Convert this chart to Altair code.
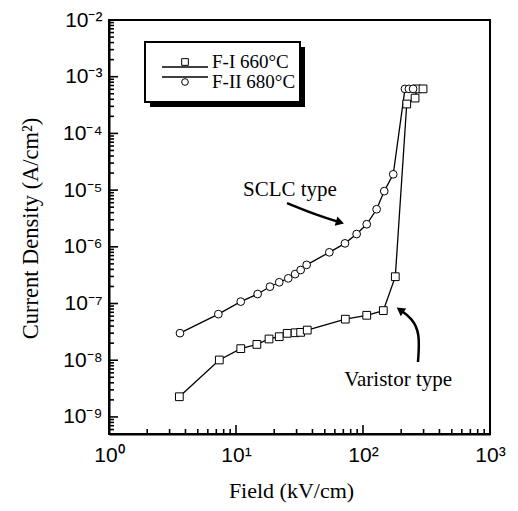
import altair as alt
import pandas as pd

# ---- data ----
SERIES = ["F-I 660°C", "F-II 680°C"]

FI_X = [3.58, 7.39, 10.9, 14.6, 18.2, 21.9, 25.3, 29.2, 32.3, 36.4, 72.6, 107, 144.5, 179.6, 221, 257, 266, 297]
FI_Y = [2.27e-9, 1.01e-8, 1.6e-8, 1.9e-8, 2.37e-8, 2.6e-8, 2.98e-8, 3.05e-8, 3.1e-8, 3.4e-8,
        5.3e-8, 6.2e-8, 7.5e-8, 2.97e-7, 3.3e-4, 4.2e-4, 6.1e-4, 6.1e-4]

FII_X = [3.62, 7.26, 10.9, 14.8, 18.5, 21.9, 25.8, 29.2, 32.3, 36.0, 54.3, 72.1, 89.1, 107, 128, 147, 173, 214, 230, 248]
FII_Y = [3.0e-8, 6.5e-8, 1.08e-7, 1.47e-7, 1.98e-7, 2.37e-7, 2.78e-7, 3.3e-7, 3.9e-7, 4.8e-7,
         8.0e-7, 1.15e-6, 1.68e-6, 2.5e-6, 4.6e-6, 9.6e-6, 1.9e-5, 6.1e-4, 6.1e-4, 6.1e-4]

X_TICKS = [1, 10, 100, 1000]
Y_TICKS = [1e-9, 1e-8, 1e-7, 1e-6, 1e-5, 1e-4, 1e-3, 1e-2]
X_MINOR = [2, 3, 4, 5, 6, 7, 8, 9, 20, 30, 40, 50, 60, 70, 80, 90, 200, 300, 400, 500, 600, 700, 800, 900]
Y_MINOR = [5e-10, 6e-10, 7e-10, 8e-10, 9e-10,
           2e-9, 3e-9, 4e-9, 5e-9, 6e-9, 7e-9, 8e-9, 9e-9,
           2e-8, 3e-8, 4e-8, 5e-8, 6e-8, 7e-8, 8e-8, 9e-8,
           2e-7, 3e-7, 4e-7, 5e-7, 6e-7, 7e-7, 8e-7, 9e-7,
           2e-6, 3e-6, 4e-6, 5e-6, 6e-6, 7e-6, 8e-6, 9e-6,
           2e-5, 3e-5, 4e-5, 5e-5, 6e-5, 7e-5, 8e-5, 9e-5,
           2e-4, 3e-4, 4e-4, 5e-4, 6e-4, 7e-4, 8e-4, 9e-4,
           2e-3, 3e-3, 4e-3, 5e-3, 6e-3, 7e-3, 8e-3, 9e-3]

NOTE_TEXT = ["SCLC type", "Varistor type"]
NOTE_X = [26.6, 189]
NOTE_Y = [1.0e-5, 4.5e-9]

ARROW1_X = [25.2, 43.4, 65.9]
ARROW1_Y = [5.9e-6, 3.6e-6, 2.7e-6]
ARROW2_X = [271, 281, 243, 196]
ARROW2_Y = [9.3e-9, 3.0e-8, 5.5e-8, 7.7e-8]
HEAD_ANGLE = [17, 215]

# ---- tables ----
df = pd.DataFrame({
    "field": FI_X + FII_X,
    "current": FI_Y + FII_Y,
    "series": [SERIES[0]] * len(FI_X) + [SERIES[1]] * len(FII_X),
    "order": list(range(len(FI_X))) + list(range(len(FII_X))),
})
notes = pd.DataFrame({"field": NOTE_X, "current": NOTE_Y, "text": NOTE_TEXT})
arrows = pd.DataFrame({
    "field": ARROW1_X + ARROW2_X,
    "current": ARROW1_Y + ARROW2_Y,
    "arrow": ["a"] * len(ARROW1_X) + ["b"] * len(ARROW2_X),
    "idx": list(range(len(ARROW1_X))) + list(range(len(ARROW2_X))),
})
heads = pd.DataFrame({
    "field": [ARROW1_X[-1], ARROW2_X[-1]],
    "current": [ARROW1_Y[-1], ARROW2_Y[-1]],
    "angle": HEAD_ANGLE,
})
legend_df = pd.DataFrame({"series": SERIES})
frame_df = pd.DataFrame({"series": SERIES[:1]})

xs = alt.Scale(type="log", domain=[1, 1000])
ys = alt.Scale(type="log", domain=[5e-10, 1e-2])
shape_scale = alt.Scale(domain=SERIES, range=["square", "circle"])

SUP = {"-": "⁻", "0": "⁰", "1": "¹", "2": "²", "3": "³", "4": "⁴",
       "5": "⁵", "6": "⁶", "7": "⁷", "8": "⁸", "9": "⁹"}
exp_expr = "toString(round(log(datum.value)/LN10))"
for k, v in SUP.items():
    exp_expr = f"replace({exp_expr}, '{k}', '{v}')"
label_expr = "'10' + " + exp_expr

SANS = "Liberation Sans"
SERIF = "Liberation Serif"
PLOT_W, PLOT_H = 381, 414

x_main = alt.X("field:Q", scale=xs, axis=alt.Axis(
    orient="bottom", values=X_TICKS, labelExpr=label_expr, ticks=False, tickSize=0,
    domainColor="black", domainWidth=2, labelFont=SANS, labelFontSize=21,
    labelColor="black", labelPadding=10, labelBaseline="top", labelFlush=False, grid=False,
    title="Field (kV/cm)", titleFont=SERIF, titleFontSize=22, titleFontWeight="normal",
    titleColor="black", titleX=182, titleY=46, titleBaseline="top", titleAlign="center"))
y_main = alt.Y("current:Q", scale=ys, axis=alt.Axis(
    orient="left", values=Y_TICKS, labelExpr=label_expr, ticks=False, tickSize=0,
    domainColor="black", domainWidth=2, labelFont=SANS, labelFontSize=21,
    labelColor="black", labelPadding=7, labelBaseline="middle", labelFlush=False, grid=False,
    title="Current Density (A/cm²)", titleFont=SERIF, titleFontSize=22.5,
    titleFontWeight="normal", titleColor="black", titleX=-79, titleY=208,
    titleAngle=270, titleBaseline="middle", titleAlign="center"))

x_none = alt.X("field:Q", scale=xs, axis=None)
y_none = alt.Y("current:Q", scale=ys, axis=None)


# ---- inward tick marks along the bottom and left edges ----
def x_ticks(values, length):
    return alt.Chart(pd.DataFrame({"field": values})).mark_tick(
        color="black", thickness=1.6, size=length, orient="vertical", opacity=1).encode(
        x=x_none, y=alt.value(PLOT_H - length / 2))


def y_ticks(values, length):
    return alt.Chart(pd.DataFrame({"current": values})).mark_tick(
        color="black", thickness=1.6, size=length, orient="horizontal", opacity=1).encode(
        y=y_none, x=alt.value(length / 2))


tick_layers = [x_ticks(X_TICKS, 9), x_ticks(X_MINOR, 5), y_ticks(Y_TICKS, 9), y_ticks(Y_MINOR, 5)]

lines = alt.Chart(df).mark_line(color="black", strokeWidth=1.3).encode(
    x=x_main, y=y_main, detail="series:N", order="order:Q")

points = alt.Chart(df).mark_point(filled=True, fill="white", stroke="black",
                                  strokeWidth=1, size=60, opacity=1).encode(
    x=x_none, y=y_none,
    shape=alt.Shape("series:N", scale=shape_scale, legend=None))

note_layer = alt.Chart(notes).mark_text(font=SERIF, fontSize=21, color="black").encode(
    x=x_none, y=y_none, text="text:N")

arrow_layer = alt.Chart(arrows).mark_line(color="black", strokeWidth=2.5,
                                          interpolate="basis").encode(
    x=x_none, y=y_none, detail="arrow:N", order="idx:Q")

head_layer = alt.Chart(heads).mark_point(shape="triangle-right", filled=True,
                                         color="black", size=90, opacity=1).encode(
    x=x_none, y=y_none, angle=alt.Angle("angle:Q", scale=None))

# ---- legend box (drawn as its own small layers) ----
row_y = alt.Y("series:N", scale=alt.Scale(domain=SERIES, range=[42, 62], padding=0), axis=None)

legend_shadow = alt.Chart(frame_df).mark_rect(color="black").encode(
    x=alt.value(41), x2=alt.value(196), y=alt.value(27), y2=alt.value(87))
legend_frame = alt.Chart(frame_df).mark_rect(fill="white", stroke="black", strokeWidth=2).encode(
    x=alt.value(36), x2=alt.value(191), y=alt.value(22), y2=alt.value(82))
legend_lines = alt.Chart(legend_df).mark_rule(color="black", strokeWidth=1.3).encode(
    x=alt.value(53), x2=alt.value(99), y=row_y)
legend_marks = alt.Chart(legend_df).mark_point(filled=True, fill="white", stroke="black",
                                               strokeWidth=1, size=45, opacity=1).encode(
    x=alt.value(76), y=row_y, shape=alt.Shape("series:N", scale=shape_scale, legend=None))
legend_text = alt.Chart(legend_df).mark_text(font=SERIF, fontSize=19, color="black",
                                             align="left", baseline="middle").encode(
    x=alt.value(103), y=row_y, text="series:N")

chart = alt.layer(
    lines, *tick_layers, points, note_layer, arrow_layer, head_layer,
    legend_shadow, legend_frame, legend_lines, legend_marks, legend_text,
).resolve_scale(y="independent").resolve_axis(x="independent", y="independent").properties(
    width=PLOT_W, height=PLOT_H,
    padding={"left": 101, "top": 12, "right": 20, "bottom": 69},
    autosize=alt.AutoSizeParams(type="none"),
).configure_view(stroke="black", strokeWidth=2)

chart.save("out.html", embed_options={"renderer": "svg", "actions": False})
